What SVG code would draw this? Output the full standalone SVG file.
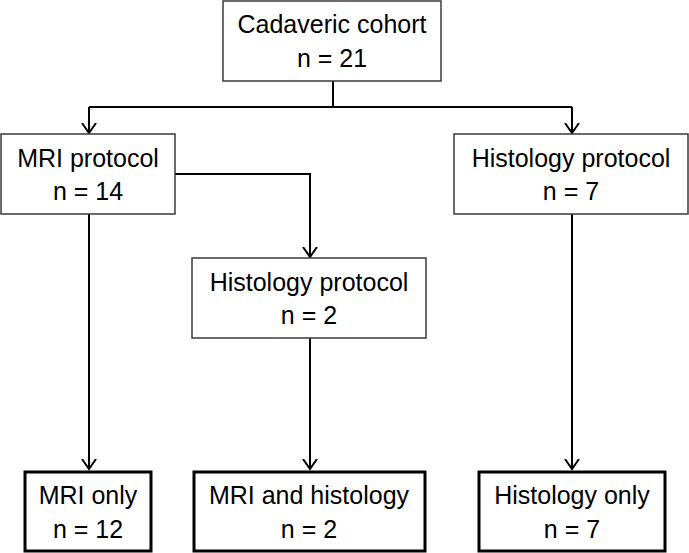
<svg xmlns="http://www.w3.org/2000/svg" width="689" height="553" viewBox="0 0 689 553">
  <style>
    .bg { fill: #ffffff; }
    .box { fill: #ffffff; stroke: #3a3a3a; stroke-width: 1.5; }
    .box2 { fill: #ffffff; stroke: #000000; stroke-width: 3; }
    .lbl { font-family: "Liberation Sans", Arial, sans-serif; font-size: 25px; fill: #000000; text-anchor: middle; }
    .conn { fill: none; stroke: #000000; stroke-width: 2; }
  </style>
  <defs>
    <marker id="arr" markerUnits="userSpaceOnUse" markerWidth="20" markerHeight="20" viewBox="-10 -10 20 20" refX="0" refY="0" orient="auto">
      <path d="M-10,-7 L0,0 L-10,7" fill="none" stroke="#000000" stroke-width="2"/>
    </marker>
  </defs>
  <rect class="bg" x="0" y="0" width="689" height="553"/>

  <g id="connectors">
    <path class="conn" d="M333,81 V107"/>
    <path class="conn" d="M89,107 H572"/>
    <path class="conn" d="M89,107 V133" marker-end="url(#arr)"/>
    <path class="conn" d="M572,107 V133" marker-end="url(#arr)"/>
    <path class="conn" d="M175,174 H310 V257" marker-end="url(#arr)"/>
    <path class="conn" d="M89,214 V469" marker-end="url(#arr)"/>
    <path class="conn" d="M310,338 V469" marker-end="url(#arr)"/>
    <path class="conn" d="M572,214 V469" marker-end="url(#arr)"/>
  </g>

  <g id="cohort">
    <rect class="box" x="223" y="1" width="218" height="80"/>
    <text class="lbl" x="332" y="33">Cadaveric cohort</text>
    <text class="lbl" x="332" y="67">n = 21</text>
  </g>
  <g id="mri-protocol">
    <rect class="box" x="1" y="134" width="174" height="80"/>
    <text class="lbl" x="88" y="167">MRI protocol</text>
    <text class="lbl" x="88" y="200">n = 14</text>
  </g>
  <g id="histology-protocol-right">
    <rect class="box" x="454" y="134" width="234" height="80"/>
    <text class="lbl" x="571" y="167">Histology protocol</text>
    <text class="lbl" x="571" y="200">n = 7</text>
  </g>
  <g id="histology-protocol-mid">
    <rect class="box" x="192" y="258" width="234" height="80"/>
    <text class="lbl" x="309" y="291">Histology protocol</text>
    <text class="lbl" x="309" y="324">n = 2</text>
  </g>
  <g id="mri-only">
    <rect class="box2" x="25" y="472" width="126" height="79"/>
    <text class="lbl" x="88" y="504">MRI only</text>
    <text class="lbl" x="88" y="538">n = 12</text>
  </g>
  <g id="mri-and-histology">
    <rect class="box2" x="194" y="472" width="231" height="79"/>
    <text class="lbl" x="309" y="504">MRI and histology</text>
    <text class="lbl" x="309" y="538">n = 2</text>
  </g>
  <g id="histology-only">
    <rect class="box2" x="479" y="472" width="186" height="79"/>
    <text class="lbl" x="572" y="504">Histology only</text>
    <text class="lbl" x="572" y="538">n = 7</text>
  </g>
</svg>
